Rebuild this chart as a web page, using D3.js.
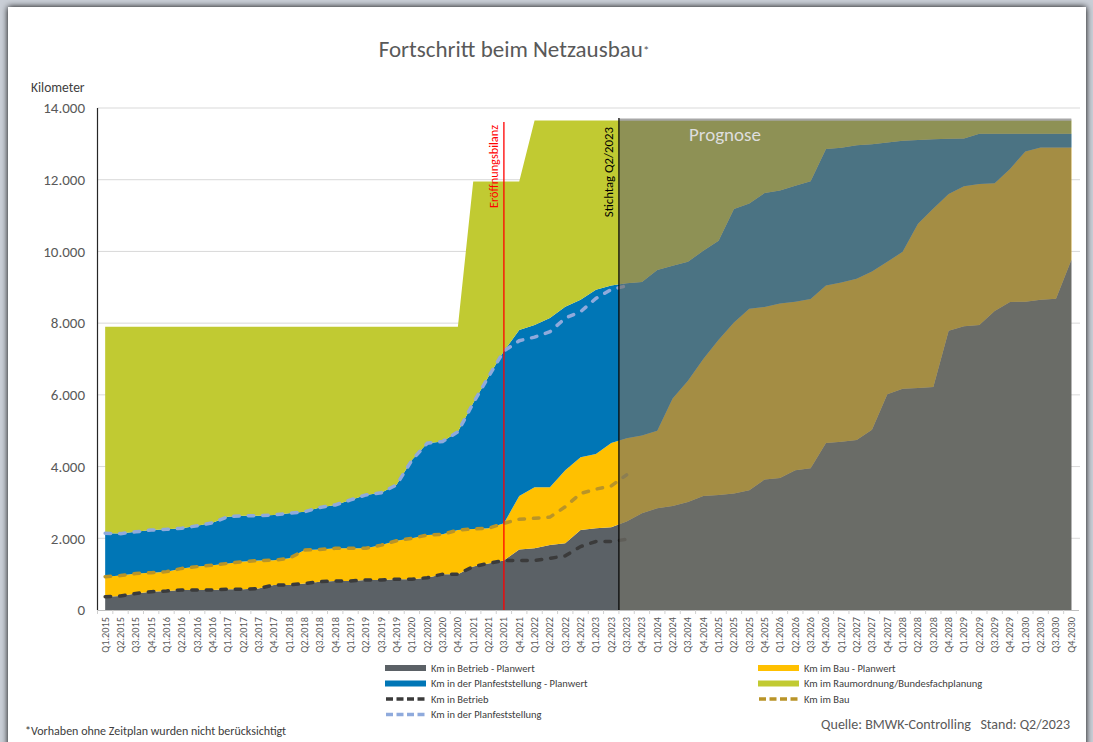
<!DOCTYPE html>
<html><head><meta charset="utf-8">
<script src="https://cdn.jsdelivr.net/npm/d3@7"></script>
<style>
html,body{margin:0;padding:0;}
body{width:1093px;height:742px;overflow:hidden;background:#c7ccd4;}
svg{display:block;}
text{font-family:Carlito, Calibri, Lato, sans-serif;}
</style></head><body>
<svg id="chart" width="1093" height="742"></svg>
<script>
const quarters = [
 "Q1.2015","Q2.2015","Q3.2015","Q4.2015","Q1.2016","Q2.2016","Q3.2016","Q4.2016",
 "Q1.2017","Q2.2017","Q3.2017","Q4.2017","Q1.2018","Q2.2018","Q3.2018","Q4.2018",
 "Q1.2019","Q2.2019","Q3.2019","Q4.2019","Q1.2020","Q2.2020","Q3.2020","Q4.2020",
 "Q1.2021","Q2.2021","Q3.2021","Q4.2021","Q1.2022","Q2.2022","Q3.2022","Q4.2022",
 "Q1.2023","Q2.2023","Q3.2023","Q4.2023","Q1.2024","Q2.2024","Q3.2024","Q4.2024",
 "Q1.2025","Q2.2025","Q3.2025","Q4.2025","Q1.2026","Q2.2026","Q3.2026","Q4.2026",
 "Q1.2027","Q2.2027","Q3.2027","Q4.2027","Q1.2028","Q2.2028","Q3.2028","Q4.2028",
 "Q1.2029","Q2.2029","Q3.2029","Q4.2029","Q1.2030","Q2.2030","Q3.2030","Q4.2030"];

// Planwerte (km), stacked areas
const betriebPlan = [370,390,460,510,530,560,560,560,580,580,600,700,700,740,790,810,
 810,840,840,860,860,900,1000,1000,1210,1300,1380,1690,1720,1810,1860,2230,
 2280,2310,2470,2700,2840,2900,3010,3180,3210,3250,3340,3640,3680,3900,3950,4660,
 4690,4740,5030,6020,6170,6190,6220,7790,7910,7950,8340,8590,8600,8650,8680,9760];
const bauPlan = [560,570,560,530,540,600,650,690,720,770,780,690,740,930,900,910,
 910,880,970,1070,1140,1190,1110,1230,1050,980,1040,1490,1700,1610,2040,2030,
 2070,2350,2320,2170,2160,3000,3380,3820,4330,4770,5060,4810,4870,4700,4720,4390,
 4440,4500,4410,3690,3820,4580,4980,3810,3910,3930,3560,3710,4190,4250,4220,3140];
const pfPlan = [1210,1170,1160,1190,1180,1120,1140,1180,1300,1280,1250,1260,1260,1070,1170,1210,
 1350,1490,1460,1560,2180,2560,2590,2740,3510,4230,4800,4630,4530,4720,4560,4390,
 4580,4390,4320,4280,4480,3700,3320,3020,2760,3160,2940,3180,3150,3230,3290,3810,
 3760,3720,3550,3330,3100,2340,1930,1540,1330,1400,1380,980,490,380,380,380];
const roPlan = [5760,5770,5720,5670,5650,5620,5550,5470,5300,5270,5270,5250,5200,5160,5040,4970,
 4830,4690,4630,4410,3720,3250,3200,2930,6180,5440,4730,4140,5700,5510,5190,5000,
 4720,4600,4540,4500,4170,4050,3940,3630,3350,2470,2310,2020,1950,1820,1690,790,
 760,690,660,610,560,540,520,510,500,370,370,370,370,370,370,370];

// Ist-Werte (km), dashed stacked lines, Q1.2015 .. Q3.2023
const betriebIst = [370,390,460,510,530,560,560,560,580,580,600,700,700,740,790,810,
 810,840,840,860,860,900,1000,1000,1210,1300,1380,1380,1380,1440,1510,1770,1910,1910,1970];
const bauIst = [560,570,560,530,540,600,650,690,720,770,780,690,740,930,900,910,
 910,880,970,1070,1140,1190,1110,1230,1050,980,1040,1150,1180,1150,1370,1480,1460,1550,1800];
const pfIst = [1210,1170,1160,1190,1180,1120,1140,1180,1300,1280,1250,1260,1260,1070,1170,1210,
 1350,1490,1460,1560,2180,2560,2590,2740,3510,4230,4800,4980,5050,5170,5260,5070,5320,5480,5270];

const yTicks = [0,2000,4000,6000,8000,10000,12000,14000];
const markerEroeffnung = "Q3.2021";
const markerStichtag = "Q2.2023";

const planKeys = ["betrieb","bau","pf","ro"];
const planColors = {betrieb:"#5b6166", bau:"#ffc000", pf:"#0076b6", ro:"#c1ca32"};
const istKeys = ["betrieb","bau","pf"];
const istColors = {betrieb:"#3b3b3b", bau:"#b99428", pf:"#8faadc"};

const svg = d3.select("#chart");
const W = 1093, H = 742;

// card with shadow
const defs = svg.append("defs");
const f = defs.append("filter").attr("id","sh").attr("x","-5%").attr("y","-5%").attr("width","110%").attr("height","110%");
f.append("feGaussianBlur").attr("in","SourceAlpha").attr("stdDeviation",3).attr("result","b");
f.append("feOffset").attr("in","b").attr("dx",0).attr("dy",0).attr("result","o");
const fm = f.append("feMerge"); fm.append("feMergeNode").attr("in","o"); fm.append("feMergeNode").attr("in","SourceGraphic");
svg.append("rect").attr("x",0).attr("y",0).attr("width",W).attr("height",H).attr("fill","#c9ced6");
svg.append("rect").attr("x",8).attr("y",7).attr("width",1078).attr("height",760).attr("fill","#ffffff").attr("filter","url(#sh)");

const plotL = 97.5, plotR = 1079, plotT = 108, plotB = 610;
const x = d3.scalePoint().domain(quarters).range([plotL, plotR]).padding(0.5);
const step = x.step();
const y = d3.scaleLinear().domain([0,14000]).range([plotB, plotT]);
const de = d3.formatLocale({decimal:",", thousands:".", grouping:[3], currency:["","€"]});
const fmt = de.format(",");

// gridlines
svg.append("g").selectAll("line").data(yTicks.filter(d=>d>0)).join("line")
  .attr("x1",plotL).attr("x2",plotR+1).attr("y1",d=>y(d)).attr("y2",d=>y(d))
  .attr("stroke","#d9d9d9").attr("stroke-width",1);

// stacked areas
const planTable = quarters.map((q,i)=>({q, betrieb:betriebPlan[i], bau:bauPlan[i], pf:pfPlan[i], ro:roPlan[i]}));
const planStack = d3.stack().keys(planKeys)(planTable);
const area = d3.area().x(d=>x(d.data.q)).y0(d=>y(d[0])).y1(d=>y(d[1]));
svg.append("g").selectAll("path").data(planStack).join("path")
  .attr("d",area).attr("fill",d=>planColors[d.key]);

// dashed actual lines
const istTable = betriebIst.map((v,i)=>({q:quarters[i], betrieb:v, bau:bauIst[i], pf:pfIst[i]}));
const istStack = d3.stack().keys(istKeys)(istTable);
const line = d3.line().x(d=>x(d.data.q)).y(d=>y(d[1]));
svg.append("g").selectAll("path").data(istStack).join("path")
  .attr("d",line).attr("fill","none").attr("stroke",d=>istColors[d.key])
  .attr("stroke-width",3.5).attr("stroke-dasharray","5.5,9").attr("stroke-linecap","round");

// Eröffnungsbilanz marker
const xr = x(markerEroeffnung);
svg.append("line").attr("x1",xr).attr("x2",xr).attr("y1",122).attr("y2",plotB).attr("stroke","#ff0000").attr("stroke-width",1.3);
svg.append("text").attr("transform",`translate(${xr-6},125) rotate(-90)`).attr("text-anchor","end")
  .attr("font-size",12.3).attr("fill","#ff0000").text("Eröffnungsbilanz");

// Prognose overlay
const xs = x(markerStichtag) + step/2;
const xe = x(quarters[quarters.length-1]);
svg.append("rect").attr("x",xs).attr("y",119.5).attr("width",xe-xs).attr("height",plotB-119.5)
  .attr("fill","rgb(115,114,104)").attr("fill-opacity",0.65);
svg.append("line").attr("x1",xs).attr("x2",xe).attr("y1",119.5).attr("y2",119.5).attr("stroke","#a7a7a7").attr("stroke-width",2);
svg.append("text").attr("x",689).attr("y",141).attr("font-size",19).attr("fill","#dedede").text("Prognose");

// Stichtag marker
svg.append("line").attr("x1",xs).attr("x2",xs).attr("y1",118).attr("y2",plotB).attr("stroke","#000").attr("stroke-width",1.2);
svg.append("text").attr("transform",`translate(${xs-6},127) rotate(-90)`).attr("text-anchor","end")
  .attr("font-size",12.8).attr("fill","#000").text("Stichtag Q2/2023");

// axes
svg.append("line").attr("x1",plotL).attr("x2",plotR).attr("y1",plotB+0.5).attr("y2",plotB+0.5).attr("stroke","#bfbfbf");
svg.append("line").attr("x1",plotL).attr("x2",plotL).attr("y1",plotT).attr("y2",plotB).attr("stroke","#262626").attr("stroke-width",1.2);
// x ticks at band boundaries
svg.append("g").selectAll("line").data(quarters).join("line")
  .attr("x1",d=>x(d)-step/2).attr("x2",d=>x(d)-step/2).attr("y1",plotB).attr("y2",plotB+4)
  .attr("stroke","#d0d0d0");
svg.append("g").selectAll("text").data(quarters).join("text")
  .attr("transform",d=>`translate(${x(d)+3.5},617) rotate(-90)`).attr("text-anchor","end")
  .attr("font-size",10.3).attr("fill","#595959").text(d=>d);
svg.append("g").selectAll("text").data(yTicks).join("text")
  .attr("x",85).attr("y",d=>y(d)).attr("dy","0.35em").attr("text-anchor","end")
  .attr("font-size",15).attr("fill","#595959").text(d=>fmt(d));

// titles
const t = svg.append("text").attr("x",514).attr("y",57).attr("text-anchor","middle").attr("font-size",23).attr("fill","#595959");
t.append("tspan").text("Fortschritt beim Netzausbau");
t.append("tspan").attr("font-size",13).attr("dy",-2).text("*");
svg.append("text").attr("x",31).attr("y",92).attr("font-size",13.5).attr("fill","#404040").text("Kilometer");

// legend
const legend = [
 {label:"Km in Betrieb - Planwert", type:"area", color:planColors.betrieb, col:0, row:0},
 {label:"Km im Bau - Planwert", type:"area", color:planColors.bau, col:1, row:0},
 {label:"Km in der Planfeststellung - Planwert", type:"area", color:planColors.pf, col:0, row:1},
 {label:"Km im Raumordnung/Bundesfachplanung", type:"area", color:planColors.ro, col:1, row:1},
 {label:"Km in Betrieb", type:"line", color:istColors.betrieb, col:0, row:2},
 {label:"Km im Bau", type:"line", color:istColors.bau, col:1, row:2},
 {label:"Km in der Planfeststellung", type:"line", color:istColors.pf, col:0, row:3}
];
const colX = [385, 758], rowY = [668, 683.5, 699, 714.5];
const lg = svg.append("g").selectAll("g").data(legend).join("g")
  .attr("transform",d=>`translate(${colX[d.col]},${rowY[d.row]})`);
lg.filter(d=>d.type==="area").append("rect").attr("x",0).attr("y",-3).attr("width",41).attr("height",6).attr("fill",d=>d.color);
lg.filter(d=>d.type==="line").append("line").attr("x1",1).attr("x2",41).attr("y1",0).attr("y2",0)
  .attr("stroke",d=>d.color).attr("stroke-width",3.5).attr("stroke-dasharray","7,3.5");
lg.append("text").attr("x",46).attr("y",0).attr("dy","0.35em").attr("font-size",10.5).attr("fill","#404040").text(d=>d.label);

svg.append("text").attr("x",25).attr("y",735).attr("font-size",12).attr("fill","#404040").text("*Vorhaben ohne Zeitplan wurden nicht berücksichtigt");
svg.append("text").attr("x",1070).attr("y",729).attr("text-anchor","end").attr("font-size",14).attr("fill","#595959")
  .attr("xml:space","preserve").text("Quelle: BMWK-Controlling   Stand: Q2/2023");
</script>
</body></html>
